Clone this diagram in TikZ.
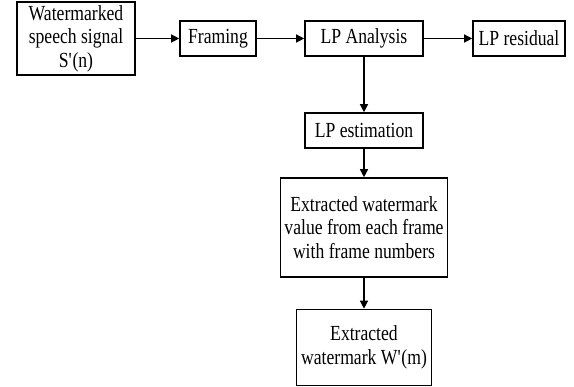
\documentclass[tikz,border=0pt]{standalone}
\usepackage{fontspec}
\setmainfont{Liberation Serif}[FakeStretch=0.82]
\usetikzlibrary{arrows.meta}
\begin{document}
\begin{tikzpicture}[x=1pt,y=1pt,
  blk/.style={draw,line width=1.6pt,inner sep=0pt,align=center,font=\fontsize{21.5}{23.5}\selectfont},
  conn/.style={line width=1.3pt,-{Triangle[length=8pt,width=8pt]}}]
\useasboundingbox (0,0) rectangle (574,-387);
\node[blk,minimum width=118,minimum height=73] (src) at (76,-38.5) {Watermarked\\speech signal\\S\textquotesingle(n)};
\node[blk,minimum width=76,minimum height=35] (frm) at (218,-38.5) {Framing};
\node[blk,minimum width=118,minimum height=35] (lpa) at (364,-38.5) {LP Analysis};
\node[blk,minimum width=92,minimum height=35] (lpr) at (519,-38.5) {LP residual};
\node[blk,minimum width=118,minimum height=35] (lpe) at (364,-130.5) {LP estimation};
\node[blk,minimum width=167,minimum height=99] (ext) at (364,-227.5) {Extracted watermark\\value from each frame\\with frame numbers};
\node[blk,minimum width=135,minimum height=76] (out) at (364,-347.5) {Extracted\\watermark W\textquotesingle(m)};
\draw[conn] (src) -- (frm);
\draw[conn] (frm) -- (lpa);
\draw[conn] (lpa) -- (lpr);
\draw[conn] (lpa) -- (lpe);
\draw[conn] (lpe) -- (ext);
\draw[conn] (ext) -- (out);
\end{tikzpicture}
\end{document}
